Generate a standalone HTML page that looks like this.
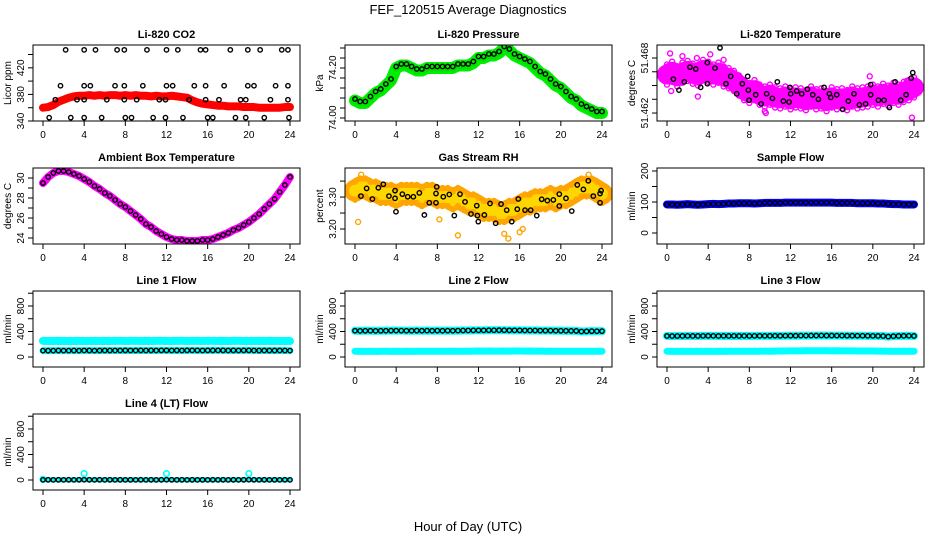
<!DOCTYPE html>
<html><head><meta charset="utf-8"><style>
body{margin:0;background:#fff}
svg{display:block;font-family:"Liberation Sans",sans-serif}
</style></head><body>
<svg id="c" width="936" height="540" xmlns="http://www.w3.org/2000/svg">
<text x="468" y="14" text-anchor="middle" font-size="13">FEF_120515  Average Diagnostics</text>
<text x="468" y="531" text-anchor="middle" font-size="13">Hour of Day (UTC)</text>
</svg>
<script>
const H=[0,0.5,1,1.5,2,2.5,3,3.5,4,4.5,5,5.5,6,6.5,7,7.5,8,8.5,9,9.5,10,10.5,11,11.5,12,12.5,13,13.5,14,14.5,15,15.5,16,16.5,17,17.5,18,18.5,19,19.5,20,20.5,21,21.5,22,22.5,23,23.5,24];
const xTicks=[0,4,8,12,16,20,24];
// CO2
const co2Band=[360,361,364,369,372,375,377,378,378,379,378,379,378,379,379,378,379,378,379,378,378,377,378,377,377,378,377,376,375,371,368,366,365,364,363,363,362,362,362,361,361,361,360,360,360,360,360,361,361];
const co2BlackX=[2.2,4.0,5.1,7.2,7.9,10.1,12.0,13.1,15.3,15.8,18.2,19.9,21.1,23.2,23.8,1.7,4.0,4.6,7.0,7.9,9.7,12.0,12.6,14.7,15.8,17.6,19.9,20.5,22.6,23.8,1.2,3.3,4.0,6.2,7.9,9.1,11.3,11.9,14.2,15.8,17.1,19.2,19.7,22.1,23.8,0.6,2.7,4.0,5.7,8.0,8.6,10.7,11.9,13.6,16.0,16.5,18.7,19.7,21.5,23.9];
const co2BlackY=[447,447,447,447,447,447,447,447,447,447,447,447,447,447,447,393,393,393,393,393,393,393,393,393,393,393,393,393,393,393,372,372,372,372,372,372,372,372,372,372,372,372,372,372,372,345,345,345,345,345,345,345,345,345,345,345,345,345,345,345];
// Pressure
const presBand=[74.07,74.06,74.06,74.08,74.10,74.11,74.13,74.15,74.20,74.21,74.21,74.20,74.19,74.19,74.20,74.20,74.20,74.20,74.20,74.20,74.21,74.21,74.21,74.22,74.24,74.24,74.25,74.25,74.26,74.28,74.27,74.25,74.24,74.23,74.22,74.20,74.18,74.17,74.15,74.13,74.12,74.10,74.08,74.07,74.05,74.04,74.03,74.02,74.02];
// Li-820 temperature
const ltBand=[51.4662,51.4665,51.4660,51.4664,51.4666,51.4663,51.4661,51.4667,51.4665,51.4662,51.4664,51.4660,51.4658,51.4655,51.4650,51.4645,51.4642,51.4645,51.4640,51.4638,51.4640,51.4637,51.4636,51.4638,51.4635,51.4637,51.4636,51.4634,51.4638,51.4635,51.4636,51.4633,51.4637,51.4635,51.4636,51.4634,51.4638,51.4636,51.4637,51.4638,51.4640,51.4638,51.4641,51.4639,51.4642,51.4640,51.4643,51.4645,51.4648];
const ltExtraX=[0.3,1.5,2.9,4.2,9.5,9.6,23.8,3.0,19.7,23.3,0.4,5.5];
const ltExtraY=[51.4685,51.4682,51.4680,51.4684,51.4622,51.4620,51.4615,51.4638,51.4660,51.4655,51.4644,51.4678];
const ltBlackX=[0.62,1.16,1.68,2.23,2.79,3.27,3.92,3.92,4.66,5.73,6.19,6.77,7.32,7.84,7.90,7.97,8.62,9.14,9.68,10.24,10.72,11.31,11.86,11.95,12.02,12.60,13.09,13.64,14.16,14.71,15.26,15.78,15.91,16.49,17.07,17.62,18.17,18.69,19.30,19.79,19.79,20.54,21.09,21.61,22.16,22.71,23.23,23.72,23.88,5.15];
const ltBlackY=[51.4657,51.4645,51.4654,51.4670,51.4668,51.4648,51.4675,51.4652,51.4669,51.4652,51.4660,51.4641,51.4652,51.4660,51.4645,51.4634,51.4640,51.4630,51.4641,51.4636,51.4654,51.4633,51.4632,51.4648,51.4641,51.4644,51.4641,51.4646,51.4640,51.4635,51.4648,51.4641,51.4637,51.4640,51.4624,51.4633,51.4641,51.4629,51.4630,51.4651,51.4640,51.4634,51.4634,51.4626,51.4654,51.4634,51.4640,51.4658,51.4664,51.4691];
// Ambient
const ambBand=[29.5,30.1,30.5,30.7,30.7,30.6,30.4,30.2,29.9,29.6,29.2,28.9,28.5,28.2,27.8,27.4,27.1,26.7,26.3,25.9,25.4,25.1,24.7,24.4,24.1,23.9,23.8,23.8,23.7,23.7,23.7,23.8,23.8,23.9,24.1,24.3,24.5,24.8,25.0,25.3,25.6,26.0,26.4,26.9,27.4,27.9,28.6,29.3,30.1];
// RH
const rhBand=[3.32,3.33,3.33,3.32,3.32,3.31,3.31,3.31,3.30,3.31,3.31,3.31,3.31,3.30,3.31,3.31,3.30,3.30,3.30,3.29,3.30,3.29,3.28,3.28,3.27,3.26,3.26,3.26,3.25,3.25,3.26,3.26,3.27,3.28,3.28,3.29,3.29,3.29,3.30,3.29,3.30,3.30,3.31,3.32,3.33,3.33,3.33,3.32,3.31];
const rhExtraX=[0.3,10.0,14.5,14.9,16.0,16.3,8.2,0.6,22.7];
const rhExtraY=[3.222,3.180,3.185,3.170,3.190,3.200,3.230,3.370,3.370];
const rhBlackX=[0.58,1.13,1.69,2.27,2.75,3.30,3.89,3.89,3.98,4.60,5.12,5.67,6.25,6.74,7.22,7.87,7.87,7.94,8.58,9.16,9.65,10.20,10.69,11.27,11.83,11.89,11.98,12.57,13.12,13.67,14.19,14.74,15.23,15.77,15.87,16.52,17.07,17.66,18.14,18.69,19.27,19.85,19.85,20.50,21.06,21.60,22.19,22.67,23.16,23.81,23.81,23.91];
const rhBlackY=[3.303,3.327,3.294,3.329,3.340,3.303,3.296,3.320,3.254,3.309,3.301,3.301,3.313,3.244,3.282,3.282,3.311,3.332,3.301,3.308,3.242,3.309,3.285,3.247,3.273,3.242,3.223,3.244,3.280,3.218,3.278,3.259,3.223,3.262,3.294,3.259,3.259,3.242,3.293,3.289,3.291,3.272,3.309,3.296,3.256,3.338,3.324,3.351,3.303,3.282,3.311,3.320];
// Sample flow
const sfBand=[92,92,91,92,93,92,91,92,93,94,93,94,95,95,96,96,96,95,96,97,97,97,97,98,98,98,98,98,98,98,98,98,98,97,97,97,97,96,96,96,96,95,95,94,93,93,92,92,92];
// Line flows
const l1Hi=[252,250,251,252,250,251,250,252,250,251,252,251,252,251,252,252,251,252,252,251,252,251,252,252,250,251,252,252,251,252,252,251,252,252,251,252,251,252,252,251,250,251,252,251,252,251,250,251,250];
const l1Lo=[100,99,100,101,100,100,101,100,102,101,100,101,102,101,102,102,103,102,102,103,102,103,102,103,103,102,103,102,103,104,103,102,103,103,104,103,102,103,102,103,103,102,101,102,101,101,102,101,100];
const l2Hi=[412,410,411,412,410,411,412,413,414,413,412,412,413,412,413,412,413,412,413,412,414,415,416,417,418,418,419,419,420,419,418,418,417,416,416,415,414,413,413,412,411,410,410,409,400,402,405,404,405];
const l2Lo=[90,88,89,90,88,89,90,89,90,89,90,89,90,90,91,90,91,90,91,92,91,90,91,92,93,92,93,92,92,93,92,93,93,92,93,92,92,91,92,91,91,90,90,91,90,91,90,90,90];
const l3Hi=[330,328,329,330,331,330,330,331,332,331,330,331,330,331,330,331,330,331,332,331,332,333,332,333,334,334,335,335,336,336,337,336,336,335,335,334,334,333,333,332,331,330,329,320,326,330,332,333,330];
const l3Lo=[90,88,89,90,88,89,90,89,90,89,90,89,90,90,91,90,91,90,91,92,91,92,93,94,95,96,96,97,98,97,98,97,96,97,96,95,95,94,94,93,93,92,92,91,91,90,90,90,90];
const l4Val=[2,3,2,3,2,3,2,3,4,3,2,3,2,3,2,3,2,3,2,3,2,3,2,3,4,3,2,3,2,3,2,3,2,3,2,3,2,3,2,3,4,3,2,3,2,3,2,3,2];
const l4SpikeX=[0,4,12,20];
const l4SpikeY=[10,100,100,100];

const NS='http://www.w3.org/2000/svg';
const svg=document.getElementById('c');
function mk(tag,attrs,parent){const e=document.createElementNS(NS,tag);for(const k in attrs)e.setAttribute(k,attrs[k]);(parent||svg).appendChild(e);return e;}

function panel(p){
  const L=33+312*p.col,R=300+312*p.col,T=45+123*p.row,B=121+123*p.row;
  const g=mk('g',{});
  
  
  const sx=h=>43+312*p.col+h*(247/24);
  const sy=v=>B-(v-p.ylo)/(p.yhi-p.ylo)*(B-T);
  const clip='clip'+p.col+p.row;
  const cp=mk('clipPath',{id:clip},g);mk('rect',{x:L,y:T,width:R-L,height:B-T},cp);
  const plot=mk('g',{'clip-path':'url(#'+clip+')'},g);
  
  
  p.draw(plot,sx,sy);
  const box=mk('rect',{x:L,y:T,width:R-L,height:B-T,fill:'none',stroke:'#000','stroke-width':1},g);
  
  
  const t=mk('text',{x:(L+R)/2,y:T-7,'text-anchor':'middle','font-size':11,'font-weight':'bold'},g);
  t.textContent=p.title;
  
  
  xTicks.forEach(h=>{
    mk('line',{x1:sx(h),x2:sx(h),y1:B,y2:B+5,stroke:'#000'},g);
    const tx=mk('text',{x:sx(h),y:B+17,'text-anchor':'middle','font-size':10},g);
    tx.textContent=h;
    
    
  });
  p.yticks.forEach(v=>{mk('line',{x1:L-5,x2:L,y1:sy(v),y2:sy(v),stroke:'#000'},g);});
  p.ylabels.forEach((v,i)=>{
    const yy=sy(v);
    const tx=mk('text',{x:L-9,y:yy,'text-anchor':'middle','font-size':10,transform:'rotate(-90 '+(L-9)+' '+yy+')'},g);
    tx.textContent=p.ylabText[i];
    
    
  });
  const yl=(T+B)/2;
  const tl=mk('text',{x:L-22,y:yl,'text-anchor':'middle','font-size':10,transform:'rotate(-90 '+(L-22)+' '+yl+')'},g);
  tl.textContent=p.ylab;
  
  
}
function band(g,sx,sy,xs,ys,color,w){
  const n=Math.min(xs.length,ys.length);
  const pts=[];for(let i=0;i<n;i++)pts.push(sx(xs[i])+','+sy(ys[i]));
  const pl=mk('polyline',{points:pts.join(' '),fill:'none',stroke:color,'stroke-width':w,'stroke-linejoin':'round','stroke-linecap':'round'},g);
  
  
}
function pts(g,sx,sy,xs,ys,color,r,sw,name){
  const n=Math.min(xs.length,ys.length);
  for(let i=0;i<n;i++){
    const c=mk('circle',{cx:sx(xs[i]),cy:sy(ys[i]),r:r,fill:'none',stroke:color,'stroke-width':sw},g);
    
    
  }
}
const flowTicks=[0,200,400,600,800,1000];
panel({name:'co2-panel',col:0,row:0,title:'Li-820 CO2',ylab:'Licor ppm',ylo:340,yhi:454.3,yticks:[340,360,380,400,420,440],ylabels:[340,380,420],ylabText:['340','380','420'],
 draw:(g,sx,sy)=>{band(g,sx,sy,H,co2Band,'#ff0000',8);pts(g,sx,sy,H,co2Band,'#ff0000',2.3,1.3,'co2-point');pts(g,sx,sy,co2BlackX,co2BlackY,'#000',2.2,1.4,'co2-avg-point');}});
panel({name:'pressure-panel',col:1,row:0,title:'Li-820 Pressure',ylab:'kPa',ylo:73.988,yhi:74.292,yticks:[74.00,74.04,74.08,74.12,74.16,74.20,74.24,74.28],ylabels:[74.00,74.20],ylabText:['74.00','74.20'],
 draw:(g,sx,sy)=>{band(g,sx,sy,H,presBand,'#00ee00',12);pts(g,sx,sy,H,presBand,'#00dd00',3,1.3,'pressure-point');pts(g,sx,sy,H,presBand.map(v=>v+0.006),'#000',2.2,1.4,'pressure-avg-point');}});
panel({name:'li820-temperature-panel',col:2,row:0,title:'Li-820 Temperature',ylab:'degrees C',ylo:51.46113,yhi:51.46942,yticks:[51.462,51.4635,51.465,51.4665,51.468],ylabels:[51.462,51.468],ylabText:['51.462','51.468'],
 draw:(g,sx,sy)=>{band(g,sx,sy,H,ltBand,'#ff00ff',20);pts(g,sx,sy,H,ltBand.map(v=>v+0.0011),'#ff00ff',2.5,1.4,'temp-point');pts(g,sx,sy,H,ltBand.map(v=>v-0.0011),'#ff00ff',2.5,1.4,'temp-point');pts(g,sx,sy,ltExtraX,ltExtraY,'#ff00ff',2.5,1.4,'temp-point');pts(g,sx,sy,ltBlackX,ltBlackY,'#000',2.2,1.4,'temp-avg-point');}});
panel({name:'ambient-box-temperature-panel',col:0,row:1,title:'Ambient Box Temperature',ylab:'degrees C',ylo:23.4,yhi:31.0,yticks:[24,25,26,27,28,29,30],ylabels:[24,26,28,30],ylabText:['24','26','28','30'],
 draw:(g,sx,sy)=>{band(g,sx,sy,H,ambBand,'#ff00ff',8);pts(g,sx,sy,H,ambBand,'#000',2.2,1.4,'ambient-avg-point');}});
panel({name:'gas-stream-rh-panel',col:1,row:1,title:'Gas Stream RH',ylab:'percent',ylo:3.153,yhi:3.391,yticks:[3.20,3.25,3.30,3.35],ylabels:[3.20,3.30],ylabText:['3.20','3.30'],
 draw:(g,sx,sy)=>{band(g,sx,sy,H,rhBand,'#ffa500',22);band(g,sx,sy,H,rhBand,'#ffd700',12);pts(g,sx,sy,H,rhBand.map(v=>v+0.028),'#ffa500',2.5,1.4,'rh-point');pts(g,sx,sy,H,rhBand.map(v=>v-0.028),'#ffa500',2.5,1.4,'rh-point');pts(g,sx,sy,rhExtraX,rhExtraY,'#ffa500',2.5,1.4,'rh-point');pts(g,sx,sy,rhBlackX,rhBlackY,'#000',2.2,1.4,'rh-avg-point');}});
panel({name:'sample-flow-panel',col:2,row:1,title:'Sample Flow',ylab:'ml/min',ylo:-35.5,yhi:209.7,yticks:[0,50,100,150,200],ylabels:[0,100,200],ylabText:['0','100','200'],
 draw:(g,sx,sy)=>{band(g,sx,sy,H,sfBand,'#0000ff',8);pts(g,sx,sy,H,sfBand,'#000',2.2,1.4,'sample-flow-avg-point');}});
panel({name:'line1-flow-panel',col:0,row:2,title:'Line 1 Flow',ylab:'ml/min',ylo:-157,yhi:1035,yticks:flowTicks,ylabels:[0,400,800],ylabText:['0','400','800'],
 draw:(g,sx,sy)=>{band(g,sx,sy,H,l1Hi,'#00ffff',8);band(g,sx,sy,H,l1Lo,'#00ffff',7);pts(g,sx,sy,H,l1Lo,'#000',2.2,1.4,'line1-avg-point');}});
panel({name:'line2-flow-panel',col:1,row:2,title:'Line 2 Flow',ylab:'ml/min',ylo:-157,yhi:1035,yticks:flowTicks,ylabels:[0,400,800],ylabText:['0','400','800'],
 draw:(g,sx,sy)=>{band(g,sx,sy,H,l2Hi,'#00ffff',8);band(g,sx,sy,H,l2Lo,'#00ffff',7);pts(g,sx,sy,H,l2Hi,'#000',2.2,1.4,'line2-avg-point');}});
panel({name:'line3-flow-panel',col:2,row:2,title:'Line 3 Flow',ylab:'ml/min',ylo:-157,yhi:1035,yticks:flowTicks,ylabels:[0,400,800],ylabText:['0','400','800'],
 draw:(g,sx,sy)=>{band(g,sx,sy,H,l3Hi,'#00ffff',8);band(g,sx,sy,H,l3Lo,'#00ffff',7);pts(g,sx,sy,H,l3Hi,'#000',2.2,1.4,'line3-avg-point');}});
panel({name:'line4-flow-panel',col:0,row:3,title:'Line 4 (LT) Flow',ylab:'ml/min',ylo:-157,yhi:1035,yticks:flowTicks,ylabels:[0,400,800],ylabText:['0','400','800'],
 draw:(g,sx,sy)=>{band(g,sx,sy,H,l4Val,'#00ffff',5);pts(g,sx,sy,l4SpikeX,l4SpikeY,'#00ffff',2.8,1.6,'line4-point');pts(g,sx,sy,H,l4Val,'#000',2.2,1.4,'line4-avg-point');}});
</script>
</body></html>
